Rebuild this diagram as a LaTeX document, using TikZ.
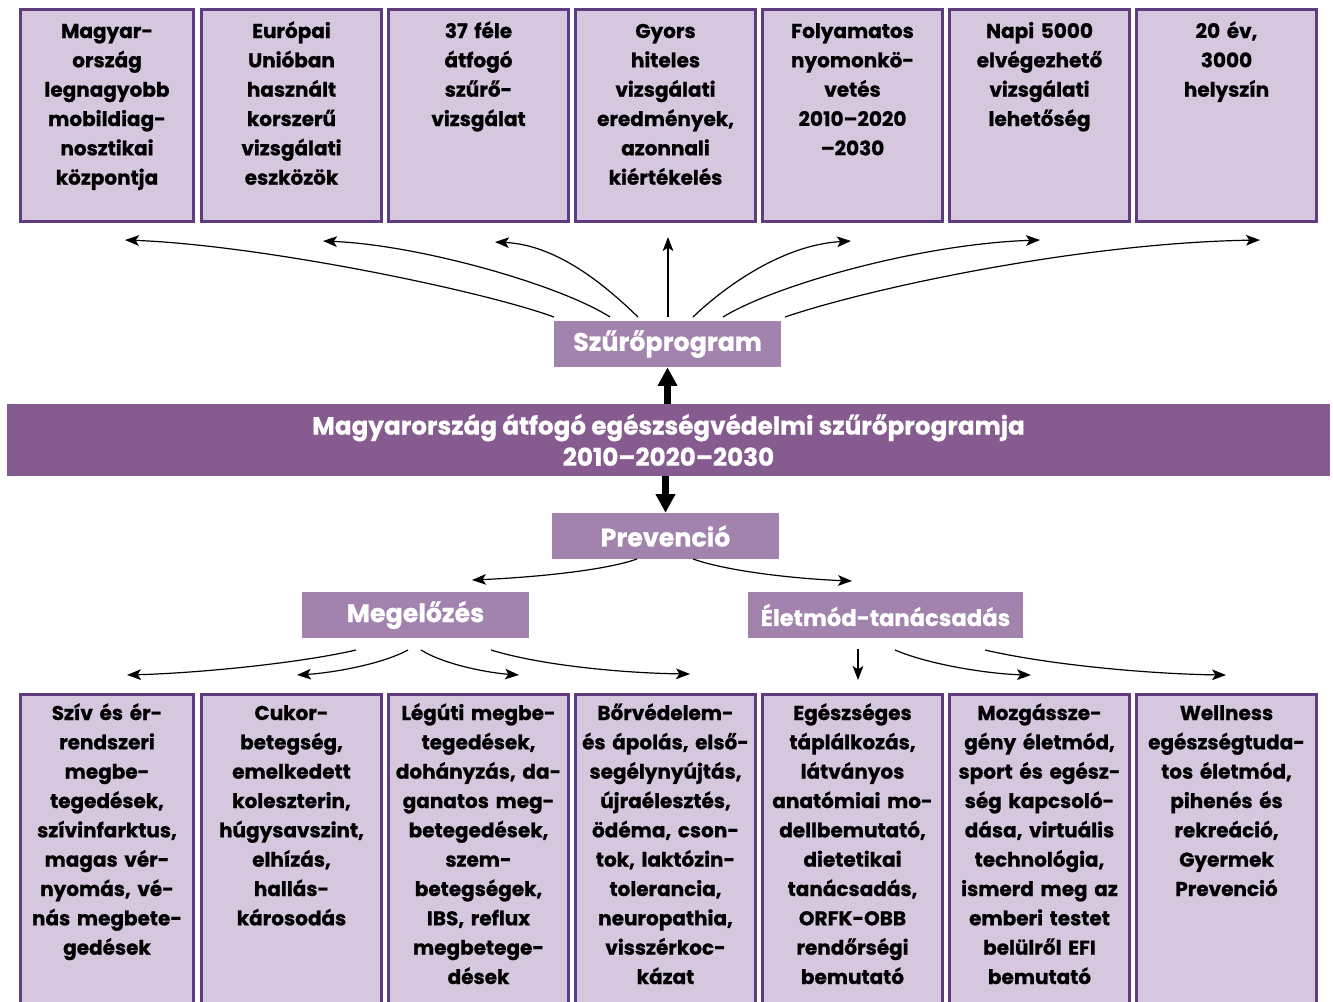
\documentclass[tikz,border=0pt]{standalone}
\usepackage{fontspec}
\setmainfont{Poppins}[BoldFeatures={FakeBold=0.8}]
\usetikzlibrary{arrows.meta}
\definecolor{boxborder}{RGB}{94,60,125}
\definecolor{boxfill}{RGB}{212,199,222}
\definecolor{bannerfill}{RGB}{134,91,143}
\definecolor{hubfill}{RGB}{161,131,174}
\begin{document}
\begin{tikzpicture}[x=0.75pt,y=-0.75pt,
  card/.style={draw=boxborder,fill=boxfill,line width=2.25pt,inner sep=0pt,minimum width=135pt},
  toprow/.style={card,minimum height=159pt},
  botrow/.style={card,minimum height=236.6pt},
  cardtxt/.style={text width=137pt,align=center,anchor=base,inner sep=0pt,font=\bfseries\fontsize{15}{22}\selectfont},
  hub/.style={fill=hubfill,text=white,inner sep=0pt,minimum height=34.5pt,minimum width=170.25pt,font=\bfseries\fontsize{19}{23}\selectfont},
  link/.style={line width=0.9pt,-{Stealth[length=10.5pt,width=8pt,inset=2.5pt]}},
  bigarrow/.style={line width=5.5pt,-{Triangle[length=14pt,width=14pt]}}]
\useasboundingbox (0,0) rectangle (1333,1001);
\clip (0,0) rectangle (1333,1001);

% ---------- top row ----------
\node[toprow,minimum width=129.75pt] (t1) at (107,115.5) {};
\node[toprow] (t2) at (291.5,115.5) {};
\node[toprow] (t3) at (478.5,115.5) {};
\node[toprow] (t4) at (665.5,115.5) {};
\node[toprow] (t5) at (852.5,115.5) {};
\node[toprow] (t6) at (1039.5,115.5) {};
\node[toprow] (t7) at (1226.5,115.5) {};
\node[cardtxt] (t1x) at (107,38) {Magyar-\\ország\\legnagyobb\\mobildiag-\\nosztikai\\központja};
\node[cardtxt] (t2x) at (291.5,38) {Európai\\Unióban\\használt\\korszerű\\vizsgálati\\eszközök};
\node[cardtxt] (t3x) at (478.5,38) {37 féle\\átfogó\\szűrő-\\vizsgálat};
\node[cardtxt] (t4x) at (665.5,38) {Gyors\\hiteles\\vizsgálati\\eredmények,\\azonnali\\kiértékelés};
\node[cardtxt] (t5x) at (852.5,38) {Folyamatos\\nyomonkö-\\vetés\\2010–2020\\–2030};
\node[cardtxt] (t6x) at (1039.5,38) {Napi 5000\\elvégezhető\\vizsgálati\\lehetőség};
\node[cardtxt] (t7x) at (1226.5,38) {20 év,\\3000\\helyszín};

% ---------- bottom row ----------
\node[botrow,minimum width=129.75pt] (b1) at (107,852.25) {};
\node[botrow] (b2) at (291.5,852.25) {};
\node[botrow] (b3) at (478.5,852.25) {};
\node[botrow] (b4) at (665.5,852.25) {};
\node[botrow] (b5) at (852.5,852.25) {};
\node[botrow] (b6) at (1039.5,852.25) {};
\node[botrow] (b7) at (1226.5,852.25) {};
\node[cardtxt] (b1x) at (107,720) {Szív és ér-\\rendszeri\\megbe-\\tegedések,\\szívinfarktus,\\magas vér-\\nyomás, vé-\\nás megbete-\\gedések};
\node[cardtxt] (b2x) at (291.5,720) {Cukor-\\betegség,\\emelkedett\\koleszterin,\\húgysavszint,\\elhízás,\\hallás-\\károsodás};
\node[cardtxt] (b3x) at (478.5,720) {Légúti megbe-\\tegedések,\\dohányzás, da-\\ganatos meg-\\betegedések,\\szem-\\betegségek,\\IBS, reflux\\megbetege-\\dések};
\node[cardtxt] (b4x) at (665.5,720) {Bőrvédelem-\\és ápolás, első-\\segélynyújtás,\\újraélesztés,\\ödéma, cson-\\tok, laktózin-\\tolerancia,\\neuropathia,\\visszérkoc-\\kázat};
\node[cardtxt] (b5x) at (852.5,720) {Egészséges\\táplálkozás,\\látványos\\anatómiai mo-\\dellbemutató,\\dietetikai\\tanácsadás,\\ORFK-OBB\\rendőrségi\\bemutató};
\node[cardtxt] (b6x) at (1039.5,720) {Mozgássze-\\gény életmód,\\sport és egész-\\ség kapcsoló-\\dása, virtuális\\technológia,\\ismerd meg az\\emberi testet\\belülről EFI\\bemutató};
\node[cardtxt] (b7x) at (1226.5,720) {Wellness\\egészségtuda-\\tos életmód,\\pihenés és\\rekreáció,\\Gyermek\\Prevenció};

% ---------- middle ----------
\node[fill=bannerfill,text=white,inner sep=0pt,minimum width=992.25pt,minimum height=54pt,align=center,
      font=\bfseries\fontsize{18.5}{23.5}\selectfont] (main) at (668.5,440)
      {Magyarország átfogó egészségvédelmi szűrőprogramja\\2010–2020–2030};
\node[hub] (szuro) at (667.5,344) {Szűrőprogram};
\node[hub] (prev) at (665.5,536) {Prevenció};
\node[hub] (meg) at (415.5,615) {Megelőzés};
\node[hub,minimum width=206.25pt,font=\bfseries\fontsize{17}{21}\selectfont] (elet) at (885.5,615) {Életmód-tanácsadás};

\draw[bigarrow] (main.north -| szuro.south) -- (szuro.south);
\draw[bigarrow] (main.south -| prev.north) -- (prev.north);

% ---------- arrows from Szűrőprogram ----------
\coordinate (s1) at (554,317); \coordinate (e1) at (125,240);
\coordinate (s2) at (610,317); \coordinate (e2) at (323,241);
\coordinate (s3) at (638,317); \coordinate (e3) at (495,242);
\coordinate (s4) at (668,317); \coordinate (e4) at (668,237);
\coordinate (s5) at (693,317); \coordinate (e5) at (851,241);
\coordinate (s6) at (723,317); \coordinate (e6) at (1040,240);
\coordinate (s7) at (785,317); \coordinate (e7) at (1260,240);
\draw[link] (s1) .. controls (480,290) and (260,245) .. (e1);
\draw[link] (s2) .. controls (560,285) and (420,245) .. (e2);
\draw[link] (s3) .. controls (610,290) and (560,245) .. (e3);
\draw[link] (s4) -- (e4);
\draw[link] (s5) .. controls (721,290) and (780,245) .. (e5);
\draw[link] (s6) .. controls (775,285) and (920,244) .. (e6);
\draw[link] (s7) .. controls (870,288) and (1080,243) .. (e7);

% ---------- arrows from Prevenció ----------
\coordinate (p1) at (637,559); \coordinate (q1) at (472,580);
\coordinate (p2) at (693,559); \coordinate (q2) at (852,581);
\draw[link] (p1) .. controls (600,572) and (520,578) .. (q1);
\draw[link] (p2) .. controls (730,572) and (800,579) .. (q2);

% ---------- arrows from Megelőzés ----------
\coordinate (m1) at (356,650); \coordinate (n1) at (127,675);
\coordinate (m2) at (408,650); \coordinate (n2) at (297,675);
\coordinate (m3) at (421,650); \coordinate (n3) at (519,675);
\coordinate (m4) at (491,650); \coordinate (n4) at (690,674);
\draw[link] (m1) .. controls (300,663) and (200,673) .. (n1);
\draw[link] (m2) .. controls (380,665) and (330,673) .. (n2);
\draw[link] (m3) .. controls (445,665) and (490,673) .. (n3);
\draw[link] (m4) .. controls (540,665) and (620,673) .. (n4);

% ---------- arrows from Életmód-tanácsadás ----------
\coordinate (l1) at (858,649); \coordinate (k1) at (858,680);
\coordinate (l2) at (895,650); \coordinate (k2) at (1031,675);
\coordinate (l3) at (985,650); \coordinate (k3) at (1226,675);
\draw[link] (l1) -- (k1);
\draw[link] (l2) .. controls (930,665) and (990,674) .. (k2);
\draw[link] (l3) .. controls (1050,665) and (1150,674) .. (k3);
\end{tikzpicture}
\end{document}
